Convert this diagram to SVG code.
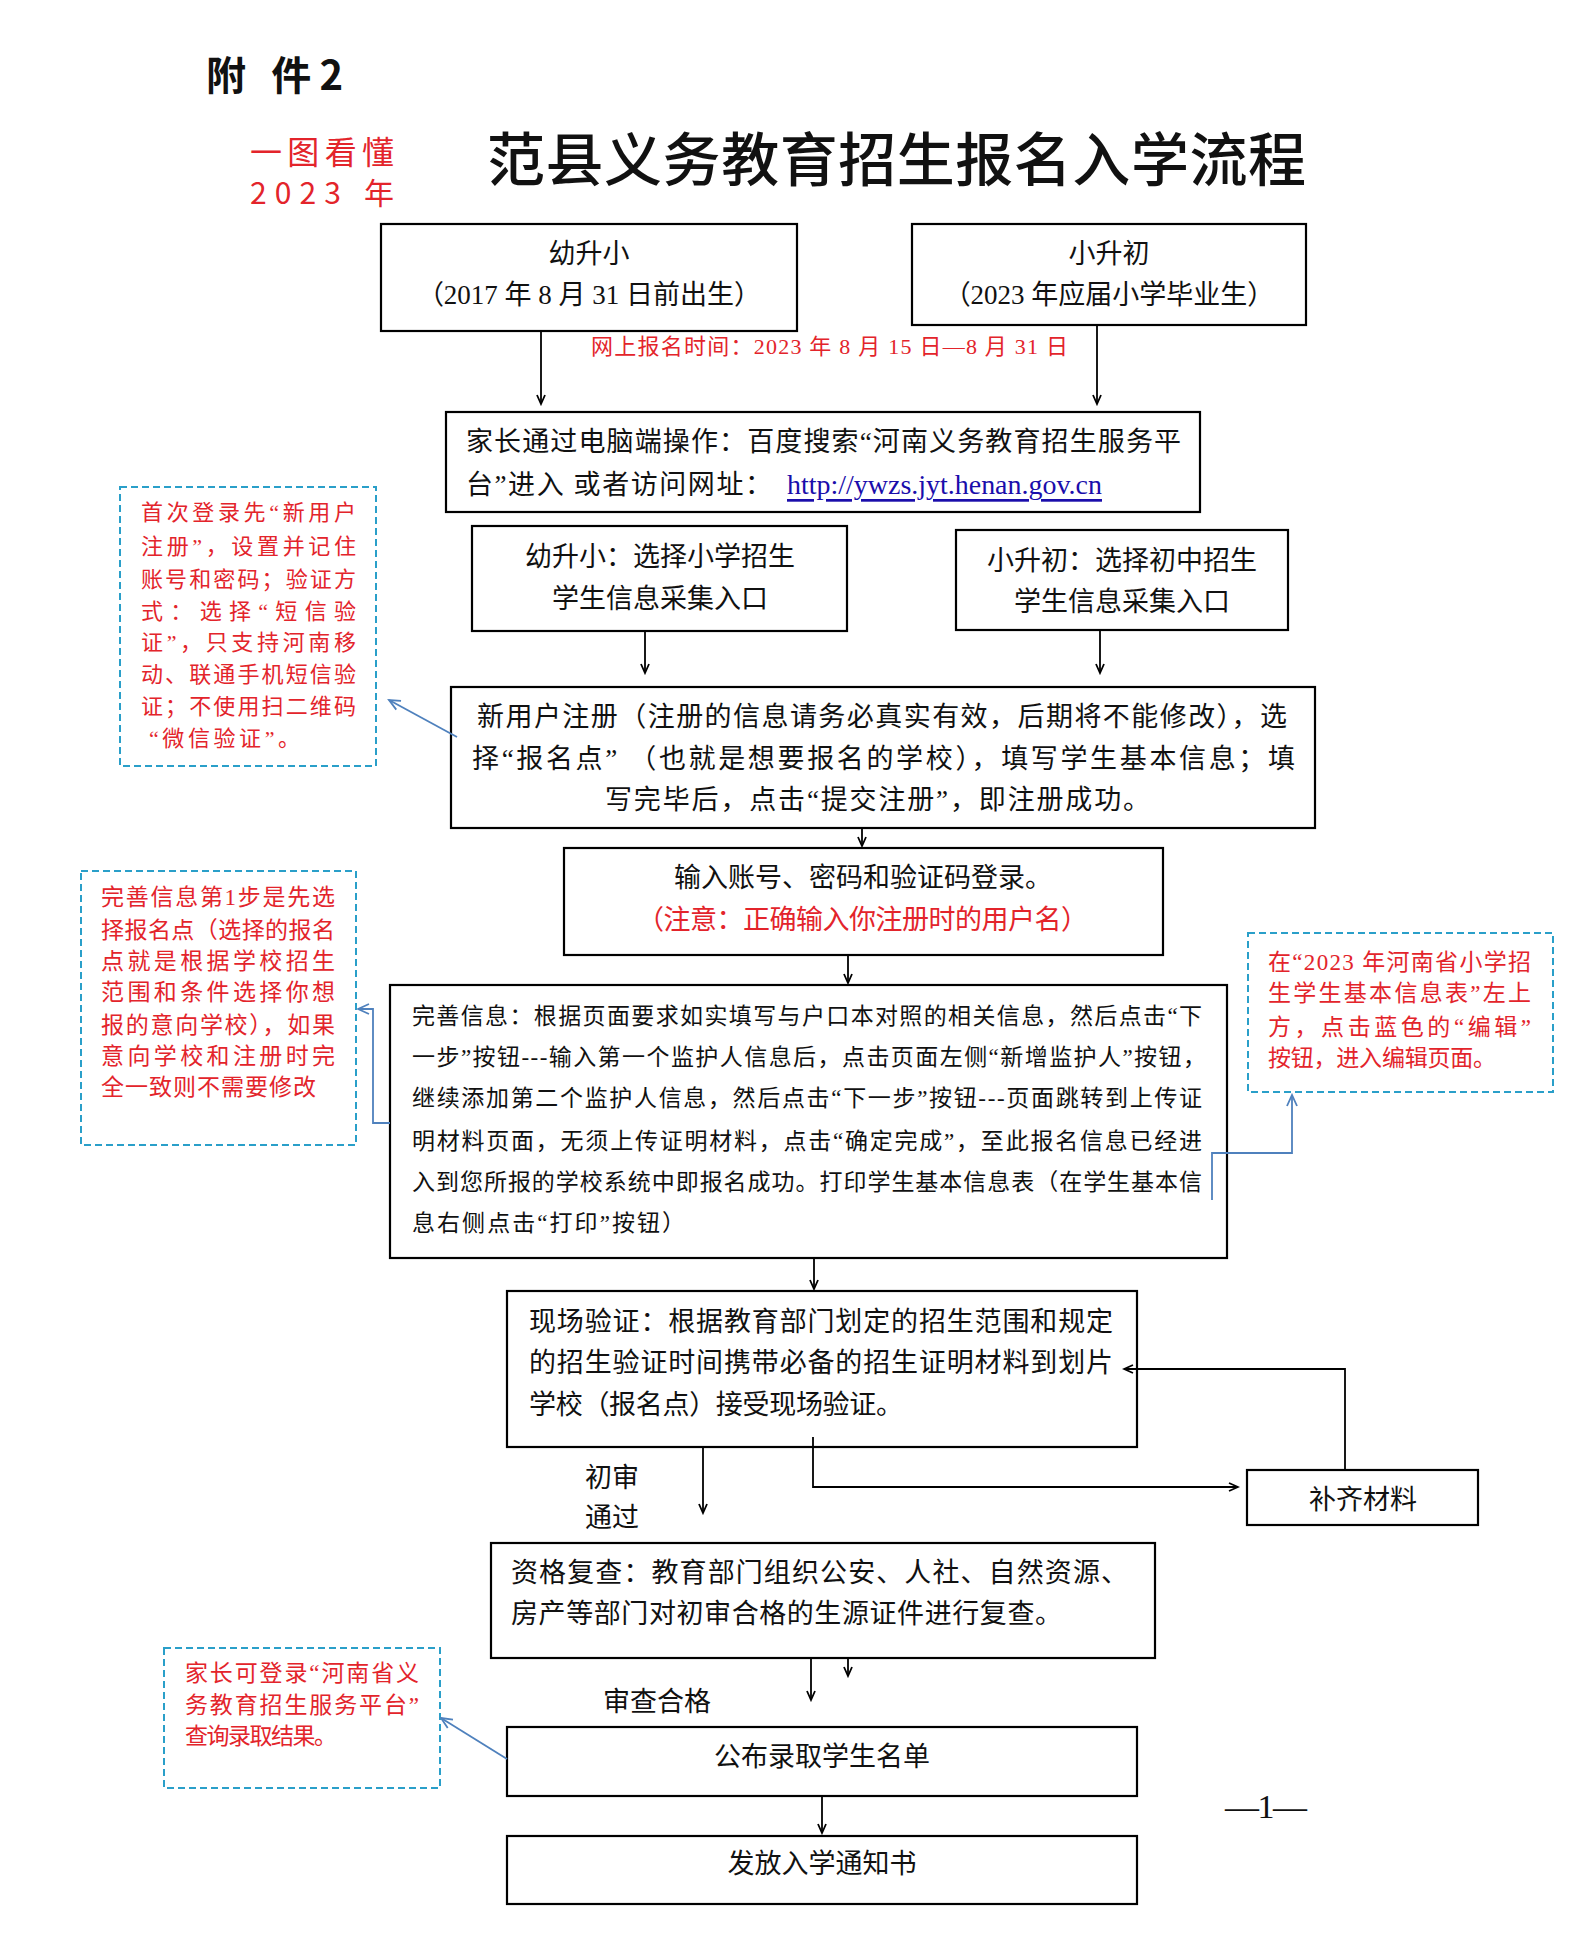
<svg xmlns="http://www.w3.org/2000/svg" width="1587" height="1959" viewBox="0 0 1587 1959">
<defs>
<style>
.bx{fill:#fff;stroke:#000;stroke-width:2.2}
.db{fill:#fff;stroke:#2a9fc9;stroke-width:2;stroke-dasharray:7 4}
.t{font-family:"Liberation Serif","Noto Sans CJK SC",serif;fill:#111;dominant-baseline:central}
.c{text-anchor:middle}
.r{fill:#e3242b}
.f27{font-size:27px}
.f23{font-size:23px}
.f22{font-size:22px}
.cn{fill:none;stroke:#000;stroke-width:1.8}
.bl{fill:none;stroke:#4f81bd;stroke-width:1.8}
</style>
<marker id="ak" markerWidth="12" markerHeight="12" refX="10" refY="6" orient="auto" markerUnits="userSpaceOnUse"><path d="M1,2 L10,6 L1,10" fill="none" stroke="#000" stroke-width="1.8"/></marker>
<marker id="ab" markerWidth="14" markerHeight="14" refX="12" refY="7" orient="auto" markerUnits="userSpaceOnUse"><path d="M1,2 L12,7 L1,12" fill="none" stroke="#4f81bd" stroke-width="1.8"/></marker>
</defs>
<rect width="1587" height="1959" fill="#fff"/>

<g id="header">
<text class="t" x="206" y="73" font-size="40" font-weight="bold" textLength="137" lengthAdjust="spacing" style="font-family:'Noto Sans CJK SC',sans-serif">附 件2</text>
<text class="t r" x="250" y="150" font-size="32" textLength="144" lengthAdjust="spacing" style="font-family:'Noto Sans CJK SC',sans-serif">一图看懂</text>
<text class="t r" x="250" y="191" font-size="30" textLength="144" lengthAdjust="spacing" style="font-family:'Noto Sans CJK SC',sans-serif">2023 年</text>
<text class="t" x="487" y="156" font-size="58" font-weight="500" textLength="819" lengthAdjust="spacing" style="font-family:'Noto Sans CJK SC',sans-serif">范县义务教育招生报名入学流程</text>
<text class="t r f22" x="591" y="346" textLength="477" lengthAdjust="spacing">网上报名时间：2023 年 8 月 15 日—8 月 31 日</text>
<text class="t" x="1225" y="1806" font-size="34" textLength="82" lengthAdjust="spacing">—1—</text>
</g>

<g id="n1">
<rect class="bx" x="381" y="224" width="416" height="107"/>
<text class="t f27 c" x="589" y="254">幼升小</text>
<text class="t f27 c" x="589" y="295">（2017 年 8 月 31 日前出生）</text>
</g>
<g id="n2">
<rect class="bx" x="912" y="224" width="394" height="101"/>
<text class="t f27 c" x="1109" y="254">小升初</text>
<text class="t f27 c" x="1109" y="295">（2023 年应届小学毕业生）</text>
</g>
<g id="n3">
<rect class="bx" x="446" y="412" width="754" height="100"/>
<text class="t f27" x="466" y="442" textLength="715" lengthAdjust="spacing">家长通过电脑端操作：百度搜索“河南义务教育招生服务平</text>
<text class="t f27" x="466" y="485" textLength="306" lengthAdjust="spacing">台”进入  或者访问网址：</text>
<text class="t f27" x="787" y="485" text-decoration="underline" style="fill:#1a0dab" textLength="315" lengthAdjust="spacingAndGlyphs">http://ywzs.jyt.henan.gov.cn</text>
</g>
<g id="n4">
<rect class="bx" x="472" y="526" width="375" height="105"/>
<text class="t f27 c" x="660" y="557">幼升小：选择小学招生</text>
<text class="t f27 c" x="660" y="599">学生信息采集入口</text>
</g>
<g id="n5">
<rect class="bx" x="956" y="530" width="332" height="100"/>
<text class="t f27 c" x="1122" y="561">小升初：选择初中招生</text>
<text class="t f27 c" x="1122" y="602">学生信息采集入口</text>
</g>
<g id="n6">
<rect class="bx" x="451" y="687" width="864" height="141"/>
<text class="t f27" x="477" y="717" textLength="810" lengthAdjust="spacing">新用户注册（注册的信息请务必真实有效，后期将不能修改），选</text>
<text class="t f27" x="472" y="759" textLength="823" lengthAdjust="spacing">择“报名点” （也就是想要报名的学校），填写学生基本信息；填</text>
<text class="t f27" x="605" y="800" textLength="545" lengthAdjust="spacing">写完毕后，点击“提交注册”，即注册成功。</text>
</g>
<g id="n7">
<rect class="bx" x="564" y="848" width="599" height="107"/>
<text class="t f27 c" x="863" y="878">输入账号、密码和验证码登录。</text>
<text class="t f27 r" x="637" y="920" textLength="451" lengthAdjust="spacing">（注意：正确输入你注册时的用户名）</text>
</g>
<g id="n8">
<rect class="bx" x="390" y="985" width="837" height="273"/>
<text class="t f23" x="412" y="1016" textLength="790" lengthAdjust="spacing">完善信息：根据页面要求如实填写与户口本对照的相关信息，然后点击“下</text>
<text class="t f23" x="412" y="1057" textLength="794" lengthAdjust="spacing">一步”按钮---输入第一个监护人信息后，点击页面左侧“新增监护人”按钮，</text>
<text class="t f23" x="412" y="1098" textLength="790" lengthAdjust="spacing">继续添加第二个监护人信息，然后点击“下一步”按钮---页面跳转到上传证</text>
<text class="t f23" x="412" y="1141" textLength="790" lengthAdjust="spacing">明材料页面，无须上传证明材料，点击“确定完成”，至此报名信息已经进</text>
<text class="t f23" x="412" y="1182" textLength="790" lengthAdjust="spacing">入到您所报的学校系统中即报名成功。打印学生基本信息表（在学生基本信</text>
<text class="t f23" x="412" y="1223" textLength="273" lengthAdjust="spacing">息右侧点击“打印”按钮）</text>
</g>
<g id="n9">
<rect class="bx" x="507" y="1291" width="630" height="156"/>
<text class="t f27" x="529" y="1322" textLength="584" lengthAdjust="spacing">现场验证：根据教育部门划定的招生范围和规定</text>
<text class="t f27" x="529" y="1363" textLength="584" lengthAdjust="spacing">的招生验证时间携带必备的招生证明材料到划片</text>
<text class="t f27" x="529" y="1405" textLength="374" lengthAdjust="spacing">学校（报名点）接受现场验证。</text>
</g>
<g id="n10">
<rect class="bx" x="1247" y="1470" width="231" height="55"/>
<text class="t f27 c" x="1363" y="1500">补齐材料</text>
</g>
<g id="n11">
<rect class="bx" x="491" y="1543" width="664" height="115"/>
<text class="t f27" x="511" y="1573" textLength="617" lengthAdjust="spacing">资格复查：教育部门组织公安、人社、自然资源、</text>
<text class="t f27" x="511" y="1614" textLength="551" lengthAdjust="spacing">房产等部门对初审合格的生源证件进行复查。</text>
</g>
<g id="n12">
<rect class="bx" x="507" y="1727" width="630" height="69"/>
<text class="t f27 c" x="822" y="1757">公布录取学生名单</text>
</g>
<g id="n13">
<rect class="bx" x="507" y="1836" width="630" height="68"/>
<text class="t f27 c" x="822" y="1864">发放入学通知书</text>
</g>

<g id="note1">
<rect class="db" x="120" y="487" width="256" height="279"/>
<text class="t f22 r" x="141" y="512" textLength="215" lengthAdjust="spacing">首次登录先“新用户</text>
<text class="t f22 r" x="141" y="546" textLength="215" lengthAdjust="spacing">注册”，设置并记住</text>
<text class="t f22 r" x="141" y="579" textLength="215" lengthAdjust="spacing">账号和密码；验证方</text>
<text class="t f22 r" x="141" y="611" textLength="215" lengthAdjust="spacing">式：选择“短信验</text>
<text class="t f22 r" x="141" y="642" textLength="215" lengthAdjust="spacing">证”，只支持河南移</text>
<text class="t f22 r" x="141" y="674" textLength="215" lengthAdjust="spacing">动、联通手机短信验</text>
<text class="t f22 r" x="141" y="706" textLength="215" lengthAdjust="spacing">证；不使用扫二维码</text>
<text class="t f22 r" x="149" y="738" textLength="151" lengthAdjust="spacing">“微信验证”。</text>
</g>
<g id="note2">
<rect class="db" x="81" y="871" width="275" height="274"/>
<text class="t f23 r" x="101" y="897" textLength="234" lengthAdjust="spacing">完善信息第1步是先选</text>
<text class="t f23 r" x="101" y="930" textLength="234" lengthAdjust="spacing">择报名点（选择的报名</text>
<text class="t f23 r" x="101" y="961" textLength="234" lengthAdjust="spacing">点就是根据学校招生</text>
<text class="t f23 r" x="101" y="992" textLength="234" lengthAdjust="spacing">范围和条件选择你想</text>
<text class="t f23 r" x="101" y="1025" textLength="234" lengthAdjust="spacing">报的意向学校），如果</text>
<text class="t f23 r" x="101" y="1056" textLength="234" lengthAdjust="spacing">意向学校和注册时完</text>
<text class="t f23 r" x="101" y="1087" textLength="215" lengthAdjust="spacing">全一致则不需要修改</text>
</g>
<g id="note3">
<rect class="db" x="1248" y="933" width="305" height="159"/>
<text class="t f23 r" x="1268" y="962" textLength="263" lengthAdjust="spacing">在“2023 年河南省小学招</text>
<text class="t f23 r" x="1268" y="993" textLength="263" lengthAdjust="spacing">生学生基本信息表”左上</text>
<text class="t f23 r" x="1268" y="1027" textLength="263" lengthAdjust="spacing">方，点击蓝色的“编辑”</text>
<text class="t f23 r" x="1268" y="1058" textLength="228" lengthAdjust="spacing">按钮，进入编辑页面。</text>
</g>
<g id="note4">
<rect class="db" x="164" y="1648" width="276" height="140"/>
<text class="t f23 r" x="185" y="1673" textLength="234" lengthAdjust="spacing">家长可登录“河南省义</text>
<text class="t f23 r" x="185" y="1705" textLength="234" lengthAdjust="spacing">务教育招生服务平台”</text>
<text class="t f23 r" x="185" y="1736" textLength="152" lengthAdjust="spacing">查询录取结果。</text>
</g>

<g id="connectors">
<path class="cn" d="M541,331 V404" marker-end="url(#ak)"/>
<path class="cn" d="M1097,325 V404" marker-end="url(#ak)"/>
<path class="cn" d="M645,631 V673" marker-end="url(#ak)"/>
<path class="cn" d="M1100,630 V673" marker-end="url(#ak)"/>
<path class="cn" d="M862,828 V846" marker-end="url(#ak)"/>
<path class="cn" d="M848,955 V983" marker-end="url(#ak)"/>
<path class="cn" d="M814,1258 V1289" marker-end="url(#ak)"/>
<path class="cn" d="M813,1437 V1487 H1238" marker-end="url(#ak)"/>
<path class="cn" d="M1345,1470 V1369 H1124" marker-end="url(#ak)"/>
<path class="cn" d="M703,1447 V1513" marker-end="url(#ak)"/>
<path class="cn" d="M811,1658 V1700" marker-end="url(#ak)"/>
<path class="cn" d="M848,1658 V1676" marker-end="url(#ak)"/>
<path class="cn" d="M822,1796 V1833" marker-end="url(#ak)"/>
<path class="bl" d="M457,737 L389,700" marker-end="url(#ab)"/>
<path class="bl" d="M390,1123 H373 V1009 H358" marker-end="url(#ab)"/>
<path class="bl" d="M1212,1200 V1153 H1292 V1095" marker-end="url(#ab)"/>
<path class="bl" d="M507,1759 L441,1718" marker-end="url(#ab)"/>
<text class="t f27 c" x="612" y="1478">初审</text>
<text class="t f27 c" x="612" y="1518">通过</text>
<text class="t f27 c" x="657" y="1702">审查合格</text>
</g>
</svg>
